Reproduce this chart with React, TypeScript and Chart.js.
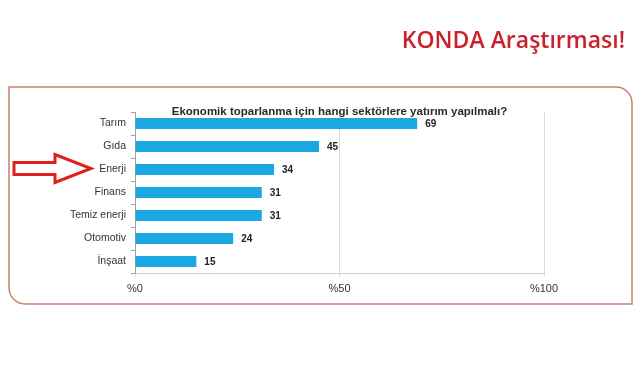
import React, { useEffect, useRef } from "react";
import { Chart, registerables } from "chart.js";

Chart.register(...registerables);

const categories = ["Tarım", "Gıda", "Enerji", "Finans", "Temiz enerji", "Otomotiv", "İnşaat"];
const values = [69, 45, 34, 31, 31, 24, 15];
const xTicks = [0, 50, 100];
const chartTitle = "Ekonomik toparlanma için hangi sektörlere yatırım yapılmalı?";
const headline = "KONDA Araştırması!";
const highlightIndex = 2;

const decorPlugin = {
  id: "decor",
  beforeDraw(chart: any) {
    const ctx = chart.ctx;
    ctx.save();
    ctx.fillStyle = "#ffffff";
    ctx.fillRect(0, 0, chart.width, chart.height);
    // rounded frame
    const l = 9, t = 87, r = 632, b = 304, rad = 16;
    ctx.beginPath();
    ctx.moveTo(l, t);
    ctx.lineTo(r - rad, t);
    ctx.arcTo(r, t, r, t + rad, rad);
    ctx.lineTo(r, b);
    ctx.lineTo(l + rad, b);
    ctx.arcTo(l, b, l, b - rad, rad);
    ctx.closePath();
    ctx.strokeStyle = "#c98070";
    ctx.lineWidth = 1.5;
    ctx.stroke();
    ctx.restore();
  },
  afterDraw(chart: any) {
    const ctx = chart.ctx;
    const area = chart.chartArea;
    const xs = chart.scales.x;
    const ys = chart.scales.y;
    ctx.save();
    // headline
    ctx.fillStyle = "#c9222a";
    ctx.font = '600 23px "Open Sans"';
    ctx.textAlign = "right";
    ctx.textBaseline = "alphabetic";
    ctx.fillText(headline, 625, 48);
    // chart title
    ctx.fillStyle = "#2a2a2a";
    ctx.font = 'bold 11.5px "Liberation Sans", Arial, sans-serif';
    ctx.textAlign = "center";
    ctx.fillText(chartTitle, (area.left + area.right) / 2, 114.5);
    // value labels
    ctx.font = 'bold 10px "Liberation Sans", Arial, sans-serif';
    ctx.textAlign = "left";
    ctx.textBaseline = "middle";
    ctx.fillStyle = "#222";
    values.forEach((v, i) => {
      ctx.fillText(String(v), xs.getPixelForValue(v) + 8, ys.getPixelForValue(i) + 0.5);
    });
    // arrow pointing at highlighted category
    const cy = ys.getPixelForValue(highlightIndex) - 1;
    ctx.beginPath();
    ctx.moveTo(14, cy - 6);
    ctx.lineTo(55, cy - 6);
    ctx.lineTo(55, cy - 14);
    ctx.lineTo(91, cy);
    ctx.lineTo(55, cy + 14);
    ctx.lineTo(55, cy + 6);
    ctx.lineTo(14, cy + 6);
    ctx.closePath();
    ctx.fillStyle = "#ffffff";
    ctx.fill();
    ctx.strokeStyle = "#e0201c";
    ctx.lineWidth = 3;
    ctx.lineJoin = "miter";
    ctx.stroke();
    ctx.restore();
  },
};

export default function App() {
  const ref = useRef<HTMLCanvasElement>(null);
  useEffect(() => {
    if (!ref.current) return;
    const chart = new Chart(ref.current, {
      type: "bar",
      data: {
        labels: categories,
        datasets: [
          {
            data: values,
            backgroundColor: "#1ba8e0",
            barPercentage: 0.48,
            categoryPercentage: 1,
          },
        ],
      },
      options: {
        indexAxis: "y",
        animation: false,
        responsive: false,
        devicePixelRatio: 1,
        layout: { padding: { top: 112, left: 0, right: 97, bottom: 77 } },
        plugins: { legend: { display: false }, tooltip: { enabled: false }, title: { display: false } },
        scales: {
          x: {
            min: 0,
            max: 100,
            afterFit: (s: any) => {
              s.height = 30;
            },
            afterBuildTicks: (s: any) => {
              s.ticks = xTicks.map((v) => ({ value: v }));
            },
            ticks: {
              callback: (v: any) => `%${v}`,
              color: "#333",
              font: { size: 11, family: '"Liberation Sans", Arial, sans-serif' },
              padding: 5,
              maxRotation: 0,
            },
            grid: { color: "#dcdcdc", tickLength: 4, lineWidth: 1 },
            border: { color: "#cfcfcf" },
          },
          y: {
            afterFit: (s: any) => {
              s.width = 135;
            },
            ticks: {
              color: "#333",
              font: { size: 10.5, family: '"Liberation Sans", Arial, sans-serif' },
              padding: 5,
            },
            grid: { drawOnChartArea: false, tickLength: 4, color: "#a0a0a0" },
            border: { color: "#a0a0a0" },
          },
        },
      },
      plugins: [decorPlugin],
    } as any);
    return () => chart.destroy();
  }, []);
  return (
    <div style={{ position: "fixed", left: 0, top: 0, width: 641, height: 380, background: "#fff" }}>
      <canvas ref={ref} width={641} height={380} style={{ display: "block" }} />
    </div>
  );
}
